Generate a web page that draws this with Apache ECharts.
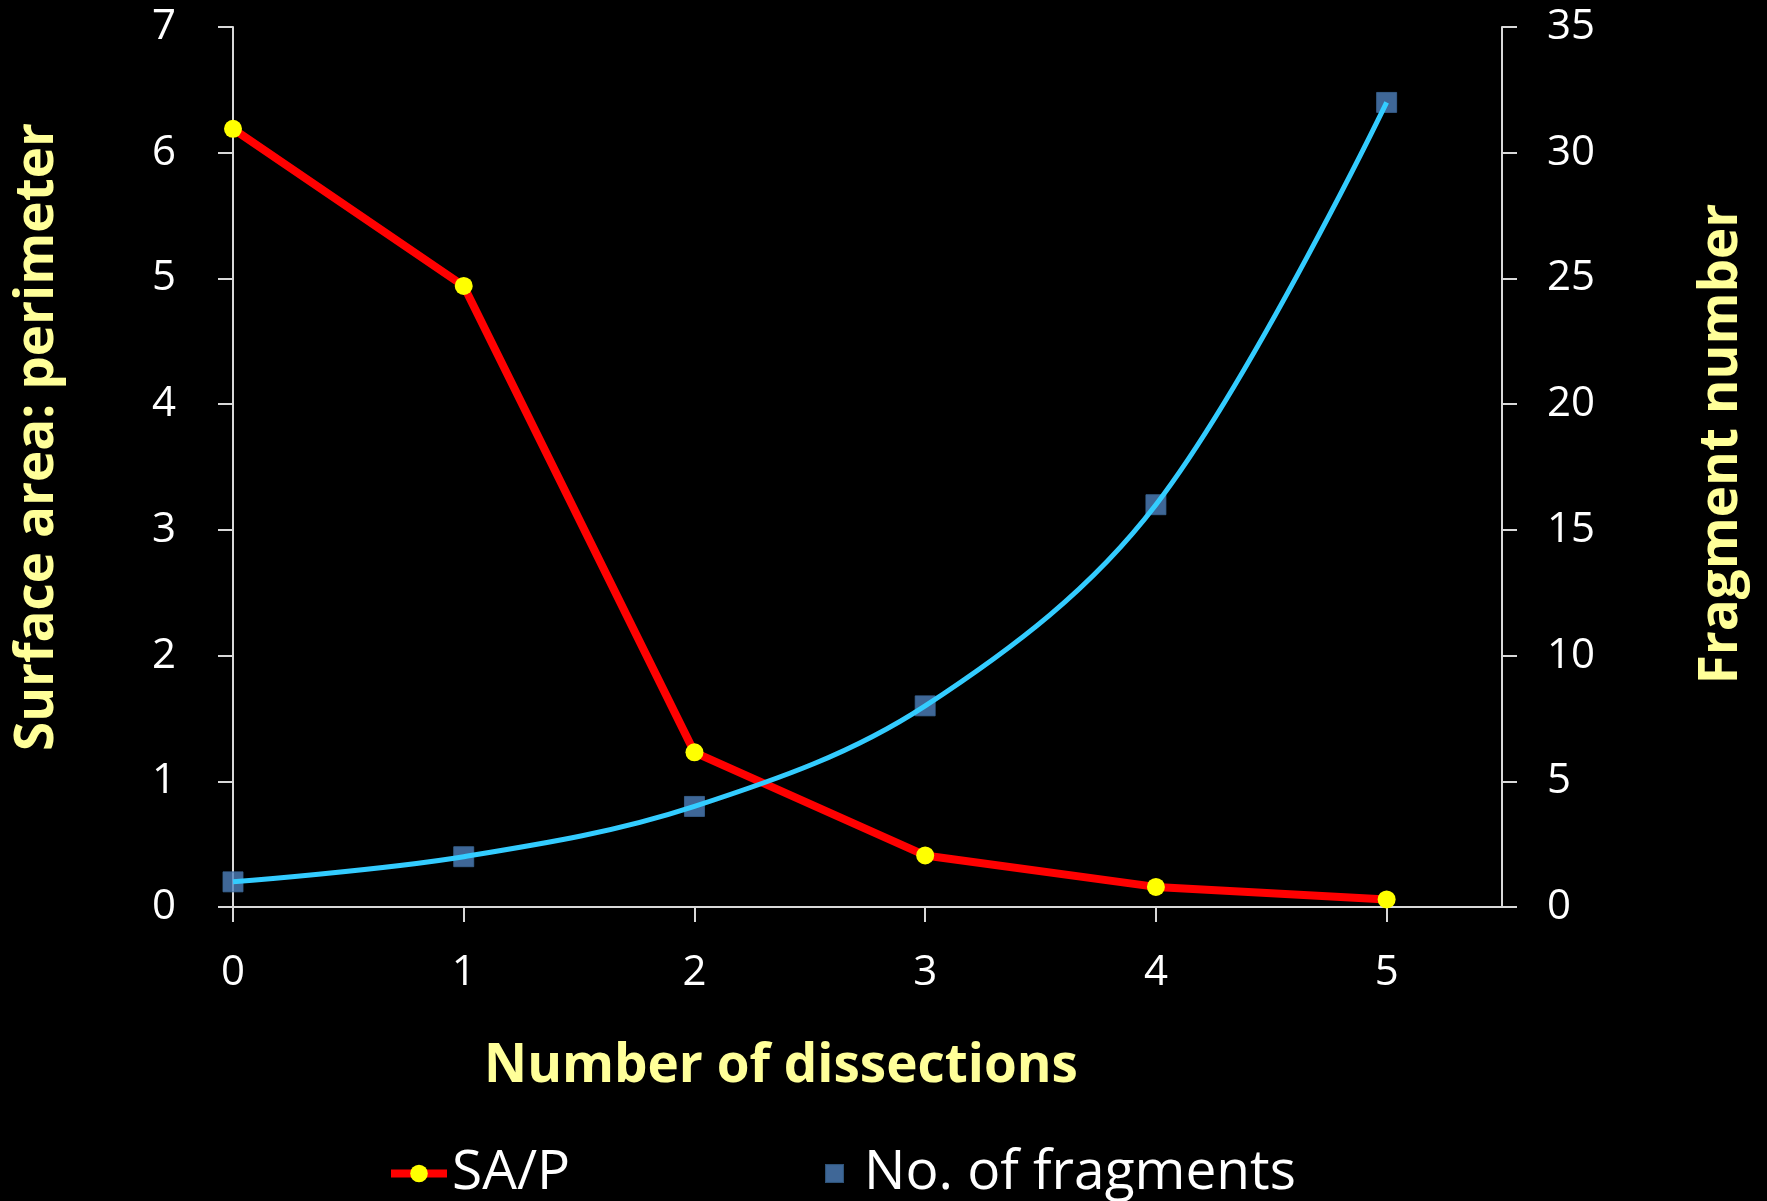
<!DOCTYPE html>
<html>
<head>
<meta charset="utf-8">
<script src="https://cdn.jsdelivr.net/npm/echarts@6/dist/echarts.min.js"></script>
<style>
html,body{margin:0;padding:0;background:#000;}
#chart{width:1767px;height:1201px;}
</style>
</head>
<body>
<div id="chart"></div>
<script>
var dissections = [0, 1, 2, 3, 4, 5];
var saP = [6.19, 4.94, 1.23, 0.41, 0.16, 0.06];
var fragments = [1, 2, 4, 8, 16, 32];
var xTicks = [0, 1, 2, 3, 4, 5];
var seriesNames = ['SA/P', 'No. of fragments'];
var titles = {x: 'Number of dissections', yLeft: 'Surface area: perimeter', yRight: 'Fragment number'};

var FONT = '"Open Sans", "DejaVu Sans", sans-serif';
var AXIS_COLOR = '#D9D9D9';
var TITLE_COLOR = '#FFFF99';

function pairs(xs, ys) { return xs.map(function (x, i) { return [x, ys[i]]; }); }

var chart = echarts.init(document.getElementById('chart'), null, {renderer: 'canvas'});
var axisLineStyle = {show: true, lineStyle: {color: AXIS_COLOR, width: 2}};
var axisTickStyle = {show: true, length: 15, inside: false, lineStyle: {color: AXIS_COLOR, width: 2}};
var labelStyle = {color: '#FFFFFF', fontSize: 42, fontFamily: FONT};

chart.setOption({
  backgroundColor: '#000000',
  animation: false,
  grid: {left: 233, right: 265, top: 27, bottom: 294, containLabel: false},
  xAxis: {
    type: 'value', min: 0, max: 5.5, interval: 1,
    axisLine: axisLineStyle,
    axisTick: Object.assign({}, axisTickStyle, {customValues: xTicks}),
    axisLabel: Object.assign({}, labelStyle, {margin: 45, customValues: xTicks}),
    splitLine: {show: false}
  },
  yAxis: [{
    type: 'value', min: 0, max: 7, interval: 1, position: 'left',
    axisLine: axisLineStyle, axisTick: axisTickStyle,
    axisLabel: Object.assign({}, labelStyle, {margin: 57}),
    splitLine: {show: false}
  }, {
    type: 'value', min: 0, max: 35, interval: 5, position: 'right',
    axisLine: axisLineStyle, axisTick: axisTickStyle,
    axisLabel: Object.assign({}, labelStyle, {margin: 45}),
    splitLine: {show: false}
  }],
  legend: [{
    left: 382, top: 1141, orient: 'horizontal',
    itemWidth: 56, itemHeight: 22,
    data: [{name: seriesNames[0], lineStyle: {color: '#FF0000', width: 8}, itemStyle: {color: '#FFFF00'}}],
    textStyle: {color: '#FFFFFF', fontSize: 55, fontFamily: FONT, padding: [0, 0, 0, 0]}
  }, {
    left: 820, top: 1141, orient: 'horizontal',
    itemWidth: 17, itemHeight: 17,
    data: [{name: seriesNames[1], icon: 'rect', itemStyle: {color: '#4F81BD'}}],
    textStyle: {color: '#FFFFFF', fontSize: 55, fontFamily: FONT, padding: [0, 0, 0, 16]}
  }],
  graphic: [{
    type: 'text', x: 781, y: 1067,
    style: {text: titles.x, fill: TITLE_COLOR, fontSize: 53, fontWeight: 'bold', fontFamily: FONT, align: 'center', verticalAlign: 'middle'}
  }, {
    type: 'text', x: 38, y: 437, rotation: Math.PI / 2,
    style: {text: titles.yLeft, fill: TITLE_COLOR, fontSize: 53, fontWeight: 'bold', fontFamily: FONT, align: 'center', verticalAlign: 'middle'}
  }, {
    type: 'text', x: 1722, y: 444, rotation: Math.PI / 2,
    style: {text: titles.yRight, fill: TITLE_COLOR, fontSize: 53, fontWeight: 'bold', fontFamily: FONT, align: 'center', verticalAlign: 'middle'}
  }],
  series: [{
    name: seriesNames[0], type: 'line', yAxisIndex: 0,
    data: pairs(dissections, saP),
    symbol: 'circle', symbolSize: 18, showSymbol: true,
    lineStyle: {color: '#FF0000', width: 8},
    itemStyle: {color: '#FFFF00', borderWidth: 0},
    z: 2
  }, {
    name: seriesNames[1], type: 'scatter', yAxisIndex: 1,
    data: pairs(dissections, fragments),
    symbol: 'rect', symbolSize: 20,
    itemStyle: {color: '#4F81BD', borderColor: '#3B6795', borderWidth: 1},
    z: 3
  }, {
    name: 'fragments-curve', type: 'line', yAxisIndex: 1,
    data: pairs(dissections, fragments),
    smooth: 0.35, showSymbol: false, symbol: 'none',
    lineStyle: {color: '#33CCFF', width: 5},
    z: 4, silent: true
  }]
});
</script>
</body>
</html>
